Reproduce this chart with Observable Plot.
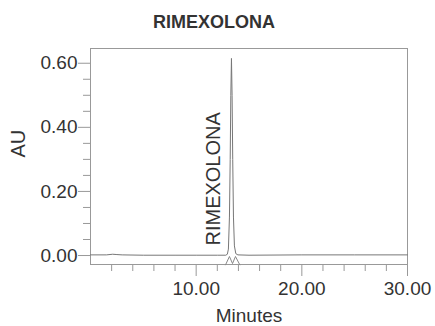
<!DOCTYPE html>
<html>
<head>
<meta charset="utf-8">
<script src="https://cdn.jsdelivr.net/npm/d3@7"></script>
<script src="https://cdn.jsdelivr.net/npm/@observablehq/plot@0.6"></script>
<style>
  html, body { margin: 0; padding: 0; background: #fff; }
</style>
</head>
<body>
<div id="chart"></div>
<script>
const title = "RIMEXOLONA";
const peakName = "RIMEXOLONA";
const peakTime = 13.34;
const xLabel = "Minutes";
const yLabel = "AU";

const xTicksMajor = [10, 20, 30];
const xTicksMinor = [2, 4, 6, 8, 12, 14, 16, 18, 22, 24, 26, 28];
const yTicksMajor = [0, 0.2, 0.4, 0.6];
const yTicksMinor = [0.05, 0.1, 0.15, 0.25, 0.3, 0.35, 0.45, 0.5, 0.55];

const times = [0, 1.5, 2.1, 2.5, 3.0, 5, 8, 10, 12, 12.8, 12.95, 13.05, 13.15, 13.22, 13.28, 13.34, 13.40, 13.46, 13.53, 13.62, 13.75, 13.95, 15, 20, 25, 30];
const absorbance = [0.002, 0.002, 0.004, 0.003, 0.002, 0.001, 0.001, 0.001, 0.001, 0.001, 0.004, 0.02, 0.12, 0.30, 0.50, 0.615, 0.50, 0.30, 0.12, 0.03, 0.006, 0.002, 0.001, 0.002, 0.002, 0.002];

const markerTimes = [12.78, 13.15, 13.44, 13.72, 14.13];
const markerValues = [-0.029, -0.003, -0.025, -0.003, -0.029];

const trace = times.map((t, i) => ({t, v: absorbance[i]}));
const markers = markerTimes.map((t, i) => ({t, v: markerValues[i]}));

const chart = Plot.plot({
  width: 435,
  height: 326,
  marginLeft: 90,
  marginRight: 28,
  marginTop: 48,
  marginBottom: 62,
  style: {fontFamily: "'Liberation Sans', Arial, sans-serif", fontSize: "19px", color: "#333", background: "#fff"},
  x: {domain: [0, 30]},
  y: {domain: [-0.028, 0.646]},
  marks: [
    Plot.frame({stroke: "#999"}),
    Plot.axisX({ticks: xTicksMinor, tickSize: 7, text: null, stroke: "#999", label: null}),
    Plot.axisX({ticks: xTicksMajor, tickSize: 12, tickPadding: 5, tickFormat: d3.format(".2f"), stroke: "#999", fill: "#333", fontSize: 19, label: null}),
    Plot.axisY({ticks: yTicksMinor, tickSize: 7, text: null, stroke: "#999", label: null}),
    Plot.axisY({ticks: yTicksMajor, tickSize: 12, tickPadding: 1, tickFormat: d3.format(".2f"), stroke: "#999", fill: "#333", fontSize: 19, label: null}),
    Plot.line(markers, {x: "t", y: "v", stroke: "#888", strokeWidth: 1}),
    Plot.line(trace, {x: "t", y: "v", stroke: "#777", strokeWidth: 1}),
    Plot.text([peakName], {x: peakTime, y: 0, text: d => d, rotate: -90, textAnchor: "start", lineAnchor: "middle", dx: -18, dy: -10, fontSize: 20, fill: "#333"}),
    Plot.text([title], {frameAnchor: "top", text: d => d, dx: -35, dy: -21, lineAnchor: "bottom", fontSize: 18, fontWeight: "bold", fill: "#333"}),
    Plot.text([xLabel], {frameAnchor: "bottom", text: d => d, dy: 57, lineAnchor: "bottom", fontSize: 19, fill: "#333"}),
    Plot.text([yLabel], {frameAnchor: "left", text: d => d, dx: -72, dy: 1, rotate: -90, lineAnchor: "middle", fontSize: 20, fill: "#333"})
  ]
});
document.getElementById("chart").appendChild(chart);
</script>
</body>
</html>
